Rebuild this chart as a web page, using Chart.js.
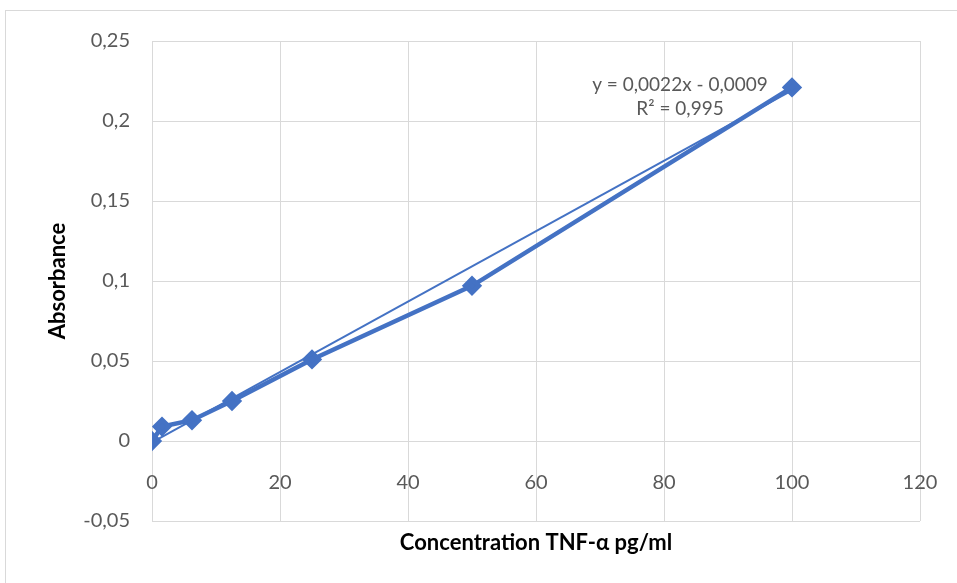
<!DOCTYPE html>
<html>
<head>
<meta charset="utf-8">
<script src="https://cdn.jsdelivr.net/npm/chart.js@4/dist/chart.umd.min.js"></script>
<style>
    body { margin: 0; background: #fff; }
    #frame { position: absolute; left: 5px; top: 10px; width: 1000px; height: 600px;
             border-left: 1px solid #d9d9d9; border-top: 1px solid #d9d9d9; }
    #courbe { position: absolute; left: 0; top: 0; }
</style>
</head>
<body>
<div id="frame"></div>
<canvas id="courbe" width="957" height="583"></canvas>
<script>
// gamme etalon TNF-alpha
var concentrations = [0, 1.5625, 6.25, 12.5, 25, 50, 100];
var absorbances = [0, 0.009, 0.013, 0.025, 0.051, 0.097, 0.221];

// courbe de tendance (y = 0,0022x - 0,0009)
var tendanceX = [0, 100];
var tendanceY = [-0.0009, 0.2191];

var yTicks = ['-0,05', '0', '0,05', '0,1', '0,15', '0,2', '0,25'];
var xTicks = ['0', '20', '40', '60', '80', '100', '120'];
var equation = ['y = 0,0022x - 0,0009', 'R² = 0,995'];

var bleu = '#4472C4';
var gris = '#d9d9d9';
var police = 'Lato, "Open Sans", sans-serif';

function points(xs, ys) {
    return xs.map(function (x, i) { return { x: x, y: ys[i] }; });
}

// pas de marge auto pour les etiquettes de l'axe x
function sansMarge(scale) {
    scale.paddingLeft = 0;
    scale.paddingRight = 0;
}

// affichage de l'equation de la droite
var equationPlugin = {
    id: 'equation',
    afterDatasetsDraw: function (chart) {
        var ctx = chart.ctx;
        var xs = chart.scales.x;
        var ys = chart.scales.y;
        ctx.save();
        ctx.fillStyle = '#595959';
        ctx.font = '19px ' + police;
        ctx.textAlign = 'center';
        ctx.textBaseline = 'middle';
        ctx.fillText(equation[0], xs.getPixelForValue(82.5), ys.getPixelForValue(0.2225));
        ctx.fillText(equation[1], xs.getPixelForValue(82.5), ys.getPixelForValue(0.2075));
        ctx.restore();
    }
};

var ctx = document.getElementById('courbe');
var myChart = new Chart(ctx, {
    type: 'scatter',
    data: {
        datasets: [{
            label: 'Tendance',
            data: points(tendanceX, tendanceY),
            showLine: true,
            borderColor: bleu,
            borderWidth: 2,
            pointRadius: 0,
            order: 0
        }, {
            label: 'Absorbance',
            data: points(concentrations, absorbances),
            showLine: true,
            borderColor: bleu,
            backgroundColor: bleu,
            borderWidth: 4.5,
            pointStyle: 'rectRot',
            pointRadius: 7,
            pointHoverRadius: 7,
            order: 1
        }]
    },
    plugins: [equationPlugin],
    options: {
        responsive: false,
        animation: false,
        layout: { padding: { top: 41, right: 37, bottom: 22, left: 0 } },
        plugins: {
            legend: { display: false },
            tooltip: { enabled: false }
        },
        scales: {
            x: {
                type: 'linear',
                min: 0,
                max: 120,
                position: { y: 0 },
                grid: { display: false },
                border: { display: false },
                ticks: {
                    stepSize: 20,
                    padding: 22,
                    color: '#595959',
                    font: { family: police, size: 20 },
                    callback: function (v) { return xTicks[Math.round(v / 20)]; }
                },
                afterFit: sansMarge
            },
            xBas: {
                type: 'linear',
                axis: 'x',
                min: 0,
                max: 120,
                position: 'bottom',
                grid: { color: gris, drawTicks: false },
                border: { display: false },
                ticks: { display: false, stepSize: 20 },
                title: {
                    display: true,
                    text: 'Concentration TNF-α pg/ml',
                    color: '#000',
                    font: { family: police, size: 22, weight: 'bold' },
                    padding: { top: 0, bottom: 5 }
                },
                afterFit: function (scale) { scale.height = 40; sansMarge(scale); }
            },
            y: {
                min: -0.05,
                max: 0.25,
                grid: { color: gris, drawTicks: false },
                border: { display: false },
                ticks: {
                    stepSize: 0.05,
                    padding: 22,
                    color: '#595959',
                    font: { family: police, size: 20 },
                    callback: function (v) { return yTicks[Math.round((v + 0.05) / 0.05)]; }
                },
                title: {
                    display: true,
                    text: 'Absorbance',
                    color: '#000',
                    font: { family: police, size: 22, weight: 'bold' },
                    padding: { top: 45, bottom: 0 }
                },
                afterFit: function (scale) { scale.width = 152; }
            }
        }
    }
});
</script>
</body>
</html>
